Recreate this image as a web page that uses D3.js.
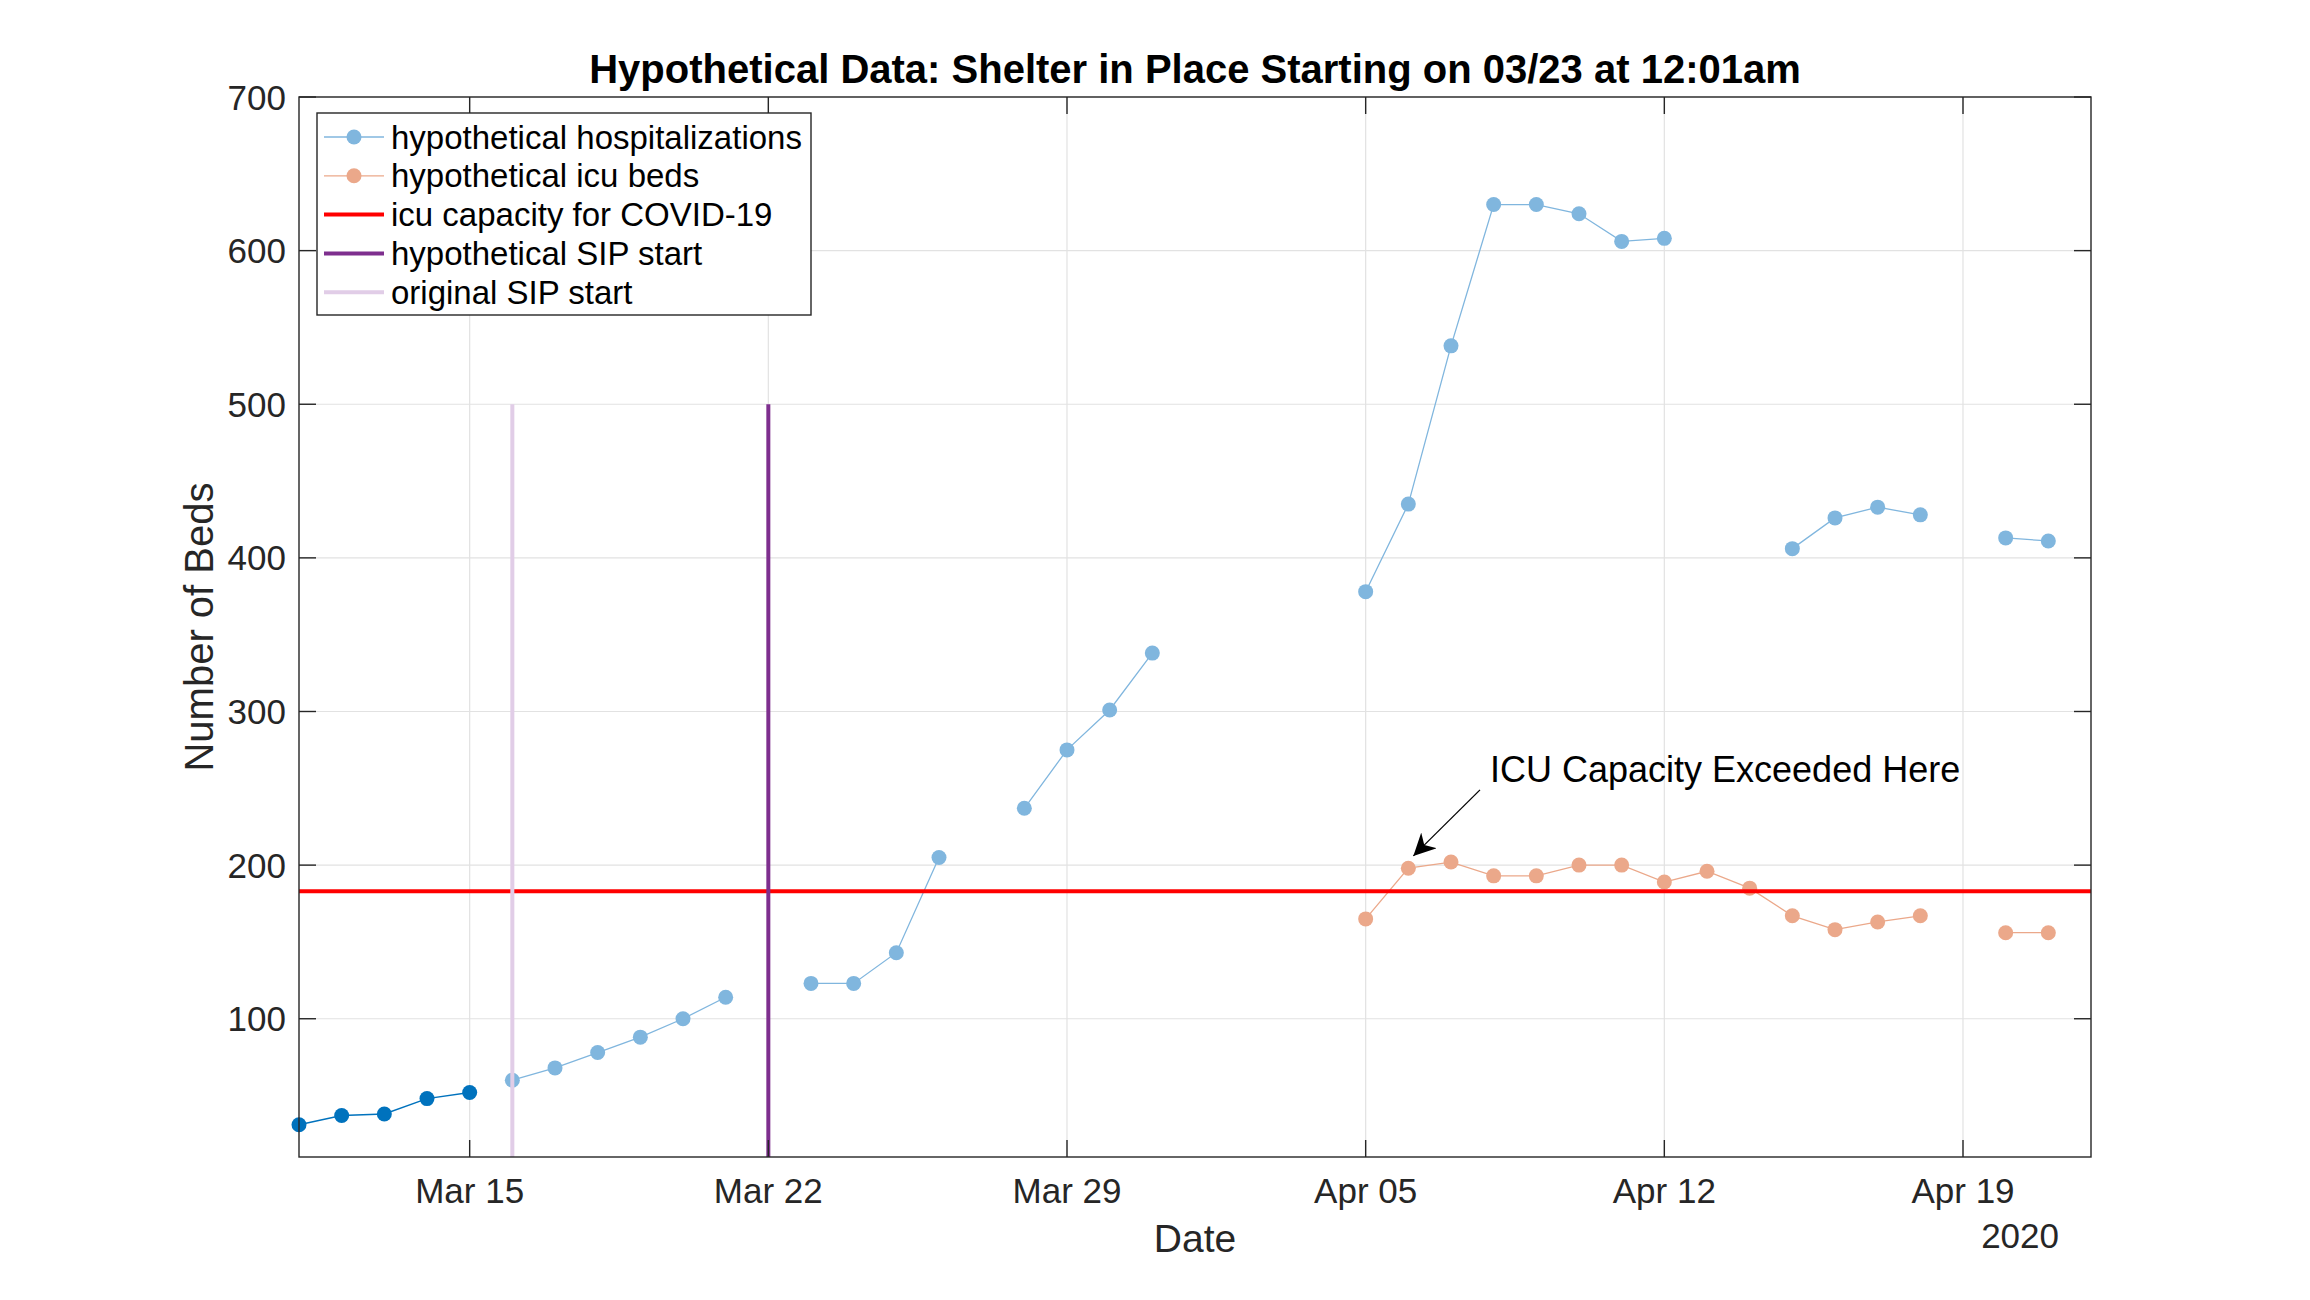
<!DOCTYPE html>
<html>
<head>
<meta charset="utf-8">
<script src="https://cdn.jsdelivr.net/npm/d3@7"></script>
<style>
  body { margin: 0; background: #fff; }
  text { font-family: "Liberation Sans", Arial, Helvetica, sans-serif; }
</style>
</head>
<body>
<script>
// observed hospitalizations (dark blue)
var actualDates = ["2020-03-11", "2020-03-12", "2020-03-13", "2020-03-14", "2020-03-15"];
var actualHosp = [31, 37, 38, 48, 52];

// hypothetical hospitalizations, null = no point that day
var hypoDates = ["2020-03-16", "2020-03-17", "2020-03-18", "2020-03-19", "2020-03-20", "2020-03-21",
  "2020-03-22", "2020-03-23", "2020-03-24", "2020-03-25", "2020-03-26", "2020-03-27", "2020-03-28",
  "2020-03-29", "2020-03-30", "2020-03-31", "2020-04-01", "2020-04-02", "2020-04-03", "2020-04-04",
  "2020-04-05", "2020-04-06", "2020-04-07", "2020-04-08", "2020-04-09", "2020-04-10", "2020-04-11",
  "2020-04-12", "2020-04-13", "2020-04-14", "2020-04-15", "2020-04-16", "2020-04-17", "2020-04-18",
  "2020-04-19", "2020-04-20", "2020-04-21"];
var hypoHosp = [60, 68, 78, 88, 100, 114,
  null, 123, 123, 143, 205, null, 237,
  275, 301, 338, null, null, null, null,
  378, 435, 538, 630, 630, 624, 606,
  608, null, null, 406, 426, 433, 428,
  null, 413, 411];

var icuDates = ["2020-04-05", "2020-04-06", "2020-04-07", "2020-04-08", "2020-04-09", "2020-04-10",
  "2020-04-11", "2020-04-12", "2020-04-13", "2020-04-14", "2020-04-15", "2020-04-16", "2020-04-17",
  "2020-04-18", "2020-04-19", "2020-04-20", "2020-04-21"];
var icuBeds = [165, 198, 202, 193, 193, 200, 200, 189, 196, 185, 167, 158, 163, 167, null, 156, 156];

var icuCapacity = 183;
var sipHypo = "2020-03-22";
var sipOrig = "2020-03-16";
var sipTop = 500;

var xDomain = ["2020-03-11", "2020-04-22"];
var yDomain = [10, 700];
var xTicks = ["2020-03-15", "2020-03-22", "2020-03-29", "2020-04-05", "2020-04-12", "2020-04-19"];
var yTicks = [100, 200, 300, 400, 500, 600, 700];

var legendLabels = ["hypothetical hospitalizations", "hypothetical icu beds", "icu capacity for COVID-19",
  "hypothetical SIP start", "original SIP start"];

var W = 2310, H = 1300;
var L = 299, R = 2091, T = 97, B = 1157;

var parse = d3.timeParse("%Y-%m-%d");
var fmt = d3.timeFormat("%b %d");

var x = d3.scaleTime().domain(xDomain.map(parse)).range([L, R]);
var y = d3.scaleLinear().domain(yDomain).range([B, T]);

var cLight = "#80b6de", cDark = "#0072bd", cIcu = "#eba88a",
    cRed = "#ff0000", cPurple = "#7e2f8e", cLilac = "#e1cde7", cAxis = "#262626";

var svg = d3.select("body").append("svg")
  .attr("width", W).attr("height", H);

// grid
var grid = svg.append("g").attr("stroke", "#e2e2e2").attr("stroke-width", 1.2);
grid.selectAll(".gx").data(xTicks).enter().append("line")
  .attr("x1", d => x(parse(d))).attr("x2", d => x(parse(d)))
  .attr("y1", T).attr("y2", B);
grid.selectAll(".gy").data(yTicks).enter().append("line")
  .attr("x1", L).attr("x2", R)
  .attr("y1", d => y(d)).attr("y2", d => y(d));

function zip(ds, vs) {
  return ds.map((d, i) => ({ date: parse(d), v: vs[i] }));
}
var line = d3.line().defined(d => d.v != null).x(d => x(d.date)).y(d => y(d.v));

function series(data, color, lw) {
  svg.append("path").datum(data)
    .attr("fill", "none").attr("stroke", color).attr("stroke-width", lw)
    .attr("d", line);
  svg.append("g").selectAll("circle").data(data.filter(d => d.v != null)).enter()
    .append("circle")
    .attr("cx", d => x(d.date)).attr("cy", d => y(d.v)).attr("r", 7.5)
    .attr("fill", color);
}

series(zip(hypoDates, hypoHosp), cLight, 1.3);
series(zip(icuDates, icuBeds), cIcu, 1.3);
series(zip(actualDates, actualHosp), cDark, 1.5);

// capacity and SIP lines
svg.append("line")
  .attr("x1", L).attr("x2", R).attr("y1", y(icuCapacity)).attr("y2", y(icuCapacity))
  .attr("stroke", cRed).attr("stroke-width", 4);
svg.append("line")
  .attr("x1", x(parse(sipOrig))).attr("x2", x(parse(sipOrig)))
  .attr("y1", y(yDomain[0])).attr("y2", y(sipTop))
  .attr("stroke", cLilac).attr("stroke-width", 4);
svg.append("line")
  .attr("x1", x(parse(sipHypo))).attr("x2", x(parse(sipHypo)))
  .attr("y1", y(yDomain[0])).attr("y2", y(sipTop))
  .attr("stroke", cPurple).attr("stroke-width", 4);

// axes box and ticks
var tickLen = 17;
var ax = svg.append("g").attr("stroke", cAxis).attr("stroke-width", 1.4);
ax.append("rect").attr("x", L).attr("y", T).attr("width", R - L).attr("height", B - T)
  .attr("fill", "none");
xTicks.forEach(function (d) {
  var px = x(parse(d));
  ax.append("line").attr("x1", px).attr("x2", px).attr("y1", B).attr("y2", B - tickLen);
  ax.append("line").attr("x1", px).attr("x2", px).attr("y1", T).attr("y2", T + tickLen);
});
yTicks.forEach(function (d) {
  var py = y(d);
  ax.append("line").attr("x1", L).attr("x2", L + tickLen).attr("y1", py).attr("y2", py);
  ax.append("line").attr("x1", R).attr("x2", R - tickLen).attr("y1", py).attr("y2", py);
});

svg.append("g").selectAll("text").data(xTicks).enter().append("text")
  .attr("x", d => x(parse(d))).attr("y", 1203)
  .attr("text-anchor", "middle").attr("font-size", 35).attr("fill", cAxis)
  .text(d => fmt(parse(d)));
svg.append("g").selectAll("text").data(yTicks).enter().append("text")
  .attr("x", L - 13).attr("y", d => y(d) + 12.5)
  .attr("text-anchor", "end").attr("font-size", 35).attr("fill", cAxis)
  .text(d => d);

svg.append("text").attr("x", 2059).attr("y", 1248).attr("text-anchor", "end")
  .attr("font-size", 35).attr("fill", cAxis).text("2020");
svg.append("text").attr("x", (L + R) / 2).attr("y", 1252).attr("text-anchor", "middle")
  .attr("font-size", 39).attr("fill", cAxis).text("Date");
svg.append("text").attr("transform", "translate(213," + ((T + B) / 2) + ") rotate(-90)")
  .attr("text-anchor", "middle").attr("font-size", 40).attr("fill", cAxis).text("Number of Beds");
svg.append("text").attr("x", (L + R) / 2).attr("y", 83).attr("text-anchor", "middle")
  .attr("font-size", 40).attr("font-weight", "bold").attr("fill", "#000")
  .text("Hypothetical Data: Shelter in Place Starting on 03/23 at 12:01am");

// annotation
var defs = svg.append("defs");
defs.append("marker").attr("id", "head").attr("viewBox", "0 0 10 10")
  .attr("refX", 10).attr("refY", 5).attr("markerWidth", 22).attr("markerHeight", 22)
  .attr("markerUnits", "userSpaceOnUse").attr("orient", "auto")
  .append("path").attr("d", "M0,0 L10,5 L0,10 L3,5 Z").attr("fill", "#000");
var tail = [x(parse("2020-04-07")) + 29, y(249)];
var tip = [x(parse("2020-04-06")) + 5, y(206)];
svg.append("line").attr("x1", tail[0]).attr("y1", tail[1]).attr("x2", tip[0]).attr("y2", tip[1])
  .attr("stroke", "#000").attr("stroke-width", 1.3).attr("marker-end", "url(#head)");
svg.append("text").attr("x", x(parse("2020-04-07")) + 39).attr("y", y(254))
  .attr("font-size", 36).attr("fill", "#000").text("ICU Capacity Exceeded Here");

// legend
var lg = svg.append("g");
lg.append("rect").attr("x", 317).attr("y", 113).attr("width", 494).attr("height", 202)
  .attr("fill", "#fff").attr("stroke", cAxis).attr("stroke-width", 1.4);
var legendStyle = [
  { c: cLight, w: 1.3, m: true },
  { c: cIcu, w: 1.3, m: true },
  { c: cRed, w: 4, m: false },
  { c: cPurple, w: 4, m: false },
  { c: cLilac, w: 4, m: false }
];
legendLabels.forEach(function (lab, i) {
  var ry = 137 + i * 38.8;
  var s = legendStyle[i];
  lg.append("line").attr("x1", 324).attr("x2", 384).attr("y1", ry).attr("y2", ry)
    .attr("stroke", s.c).attr("stroke-width", s.w);
  if (s.m) lg.append("circle").attr("cx", 354).attr("cy", ry).attr("r", 7.5).attr("fill", s.c);
  lg.append("text").attr("x", 391).attr("y", ry + 11.5).attr("font-size", 33)
    .attr("fill", "#000").text(lab);
});
</script>
</body>
</html>
